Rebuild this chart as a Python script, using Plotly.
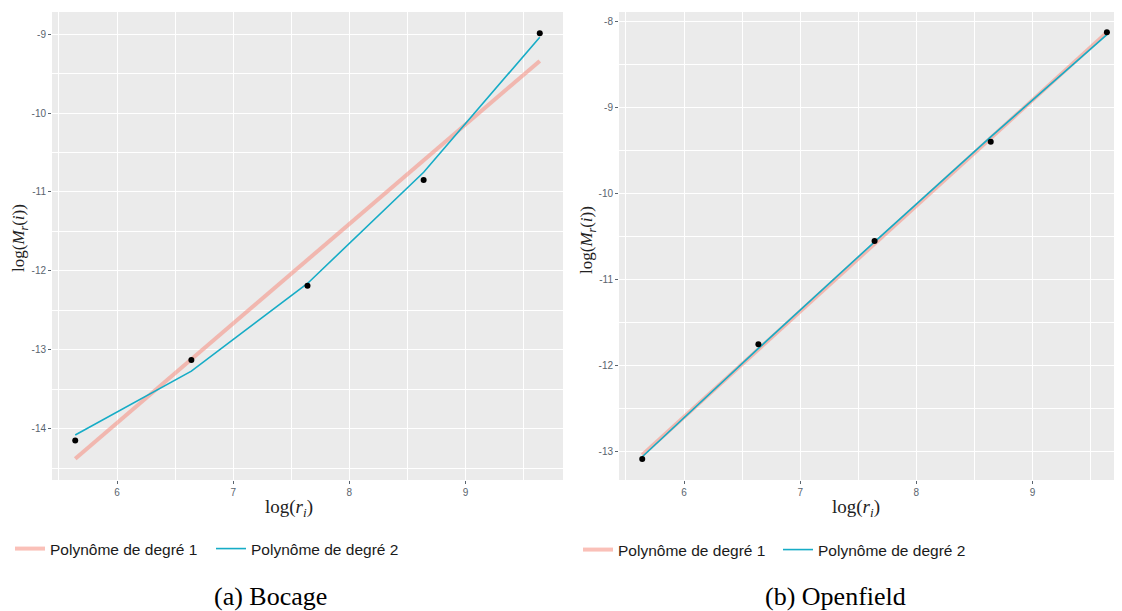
import plotly.graph_objects as go

# page body has an 8px margin: the figure div sits at (8, 8) in the 1122x611 window
OFF = 8
W, H = 1122 - OFF, 611 - OFF

# ---- data ----
x_log_r = [5.64, 6.64, 7.64, 8.64, 9.64]

bocage_obs = [-14.15, -13.13, -12.19, -10.85, -8.99]
bocage_deg1 = [-14.38, -13.12, -11.86, -10.60, -9.34]
bocage_deg2 = [-14.08, -13.27, -12.16, -10.75, -9.04]

open_obs = [-13.085, -11.75, -10.55, -9.395, -8.123]
open_deg1 = [-13.04, -11.81, -10.58, -9.35, -8.125]
open_deg2 = [-13.06, -11.80, -10.56, -9.34, -8.15]

x_ticks = [6, 7, 8, 9]
x_ticklabels = ["6", "7", "8", "9"]
bocage_yticks = [-14, -13, -12, -11, -10, -9]
bocage_yticklabels = ["-14", "-13", "-12", "-11", "-10", "-9"]
open_yticks = [-13, -12, -11, -10, -9, -8]
open_yticklabels = ["-13", "-12", "-11", "-10", "-9", "-8"]

legend_names = ["Polynôme de degré 1", "Polynôme de degré 2"]
captions = ["(a) Bocage", "(b) Openfield"]

PINK = "rgba(246,140,125,0.55)"
CYAN = "#16acc6"
TICKC = "#5a646e"

def px_x(p):
    return (p - OFF) / W

def px_y(p):
    return 1 - (p - OFF) / H

fig = go.Figure()

panels = [
    ("x", "y", "legend", bocage_obs, bocage_deg1, bocage_deg2),
    ("x2", "y2", "legend2", open_obs, open_deg1, open_deg2),
]
for xa, ya, lg, obs, d1, d2 in panels:
    fig.add_trace(go.Scatter(x=x_log_r, y=d1, mode="lines", name=legend_names[0],
                             line=dict(color=PINK, width=4), xaxis=xa, yaxis=ya, legend=lg))
    fig.add_trace(go.Scatter(x=x_log_r, y=d2, mode="lines", name=legend_names[1],
                             line=dict(color=CYAN, width=1.6), xaxis=xa, yaxis=ya, legend=lg))
    fig.add_trace(go.Scatter(x=x_log_r, y=obs, mode="markers", showlegend=False,
                             marker=dict(color="black", size=6), xaxis=xa, yaxis=ya))

axis_common = dict(
    showgrid=True, gridcolor="white", gridwidth=1.2, zeroline=False,
    ticks="outside", ticklen=3, tickwidth=1, tickcolor=TICKC,
    tickfont=dict(family="Liberation Sans, Arial", size=10, color=TICKC),
    showline=False, automargin=False,
    minor=dict(dtick=0.5, showgrid=True, gridcolor="white", gridwidth=0.5, ticks=""),
)

ydom = [px_y(480), px_y(12)]
legend_font = dict(family="Liberation Sans, Arial", size=15.5, color="#1a1a1a")
fig.update_layout(
    width=W, height=H,
    margin=dict(l=0, r=0, t=0, b=0),
    paper_bgcolor="white", plot_bgcolor="#EBEBEB",
    xaxis=dict(domain=[px_x(52), px_x(563)], range=[5.44, 9.84], anchor="y",
               tickvals=x_ticks, ticktext=x_ticklabels, **axis_common),
    yaxis=dict(domain=ydom, range=[-14.65, -8.72], anchor="x",
               tickvals=bocage_yticks, ticktext=bocage_yticklabels, **axis_common),
    xaxis2=dict(domain=[px_x(619), 1.0], range=[5.44, 9.77], anchor="y2",
                tickvals=x_ticks, ticktext=x_ticklabels, **axis_common),
    yaxis2=dict(domain=ydom, range=[-13.33, -7.887], anchor="x2",
                tickvals=open_yticks, ticktext=open_yticklabels, **axis_common),
    legend=dict(orientation="h", x=px_x(10), y=px_y(549), xanchor="left", yanchor="middle",
                entrywidth=156, bgcolor="rgba(0,0,0,0)", font=legend_font),
    legend2=dict(orientation="h", x=px_x(578), y=px_y(550), xanchor="left", yanchor="middle",
                 entrywidth=155, bgcolor="rgba(0,0,0,0)", font=legend_font),
    showlegend=True,
)

serif = "Liberation Serif, Times New Roman, serif"
xt = "log(<i>r<sub>i</sub></i>)"
yt = "log(<i>M<sub>r</sub></i>(<i>i</i>))"
ann = []
for cx in (289, 856):
    ann.append(dict(x=px_x(cx), y=px_y(508), xref="paper", yref="paper", text=xt, showarrow=False,
                    xanchor="center", yanchor="middle", font=dict(family=serif, size=19, color="#222")))
for cx, cy in ((20, 238), (588, 240)):
    ann.append(dict(x=px_x(cx), y=px_y(cy), xref="paper", yref="paper", text=yt, showarrow=False,
                    textangle=-90, xanchor="center", yanchor="middle",
                    font=dict(family=serif, size=17, color="#222")))
for cx, cap in zip((270, 835), captions):
    ann.append(dict(x=px_x(cx), y=px_y(596), xref="paper", yref="paper", text=cap, showarrow=False,
                    xanchor="center", yanchor="middle", font=dict(family=serif, size=26, color="black")))
fig.update_layout(annotations=ann)

fig.write_html("out.html")
